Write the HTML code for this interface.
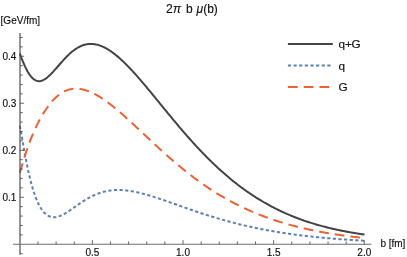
<!DOCTYPE html>
<html><head><meta charset="utf-8"><title>plot</title>
<style>html,body{margin:0;padding:0;background:#fff;}svg{display:block;will-change:transform;}text{font-family:"Liberation Sans",sans-serif;fill:#111111;stroke:#111111;stroke-width:0.15px;}</style></head>
<body>
<svg width="407" height="257" viewBox="0 0 407 257">
<rect width="407" height="257" fill="#ffffff"/>
<path d="M19.80 125.68 L20.66 130.28 L21.53 135.09 L22.39 139.99 L23.26 144.89 L24.12 149.73 L24.98 154.46 L25.85 159.04 L26.71 163.45 L27.58 167.67 L28.44 171.68 L29.30 175.49 L30.17 179.09 L31.03 182.48 L31.89 185.66 L32.76 188.65 L33.62 191.44 L34.49 194.04 L35.35 196.47 L36.21 198.72 L37.08 200.80 L37.94 202.73 L38.81 204.50 L39.67 206.13 L40.53 207.62 L41.40 208.98 L42.26 210.21 L43.13 211.32 L43.99 212.32 L44.85 213.21 L45.72 214.00 L46.58 214.69 L47.45 215.28 L48.31 215.79 L49.17 216.21 L50.04 216.55 L50.90 216.81 L51.76 217.00 L52.63 217.13 L53.49 217.19 L54.36 217.19 L55.22 217.13 L56.08 217.02 L56.95 216.85 L57.81 216.65 L58.68 216.39 L59.54 216.10 L60.40 215.77 L61.27 215.40 L62.13 215.00 L63.00 214.57 L63.86 214.12 L64.72 213.64 L65.59 213.14 L66.45 212.62 L67.32 212.08 L68.18 211.52 L69.04 210.96 L69.91 210.38 L70.77 209.79 L71.63 209.20 L72.50 208.60 L73.36 207.99 L74.23 207.39 L75.09 206.78 L75.95 206.17 L76.82 205.56 L77.68 204.96 L78.55 204.36 L79.41 203.77 L80.27 203.18 L81.14 202.60 L82.00 202.03 L82.87 201.46 L83.73 200.91 L84.59 200.37 L85.46 199.84 L86.32 199.31 L87.18 198.81 L88.05 198.31 L88.91 197.83 L89.78 197.36 L90.64 196.90 L91.50 196.46 L92.37 196.03 L93.23 195.62 L94.10 195.22 L94.96 194.84 L95.82 194.47 L96.69 194.12 L97.55 193.78 L98.42 193.46 L99.28 193.15 L100.14 192.86 L101.01 192.58 L101.87 192.32 L102.74 192.07 L103.60 191.84 L104.46 191.62 L105.33 191.42 L106.19 191.23 L107.05 191.06 L107.92 190.90 L108.78 190.75 L109.65 190.62 L110.51 190.50 L111.37 190.40 L112.24 190.31 L113.10 190.23 L113.97 190.16 L114.83 190.11 L115.69 190.07 L116.56 190.04 L117.42 190.03 L118.29 190.02 L119.15 190.03 L120.01 190.04 L120.88 190.07 L121.74 190.11 L122.61 190.16 L123.47 190.22 L124.33 190.29 L125.20 190.37 L126.06 190.46 L126.92 190.55 L127.79 190.66 L128.65 190.78 L129.52 190.90 L130.38 191.03 L131.24 191.17 L132.11 191.32 L132.97 191.47 L133.84 191.63 L134.70 191.80 L135.56 191.98 L136.43 192.16 L137.29 192.35 L138.16 192.54 L139.02 192.74 L139.88 192.95 L140.75 193.16 L141.61 193.38 L142.48 193.60 L143.34 193.83 L144.20 194.06 L145.07 194.29 L145.93 194.53 L146.79 194.78 L147.66 195.03 L148.52 195.28 L149.39 195.54 L150.25 195.80 L151.11 196.06 L151.98 196.33 L152.84 196.60 L153.71 196.87 L154.57 197.14 L155.43 197.42 L156.30 197.70 L157.16 197.98 L158.03 198.27 L158.89 198.56 L159.75 198.84 L160.62 199.14 L161.48 199.43 L162.35 199.72 L163.21 200.02 L164.07 200.31 L164.94 200.61 L165.80 200.91 L166.66 201.21 L167.53 201.51 L168.39 201.82 L169.26 202.12 L170.12 202.42 L170.98 202.73 L171.85 203.03 L172.71 203.34 L173.58 203.64 L174.44 203.95 L175.30 204.25 L176.17 204.56 L177.03 204.87 L177.90 205.17 L178.76 205.48 L179.62 205.78 L180.49 206.09 L181.35 206.39 L182.22 206.70 L183.08 207.00 L183.94 207.31 L184.81 207.61 L185.67 207.91 L186.53 208.22 L187.40 208.52 L188.26 208.82 L189.13 209.12 L189.99 209.42 L190.85 209.72 L191.72 210.01 L192.58 210.31 L193.45 210.60 L194.31 210.90 L195.17 211.19 L196.04 211.48 L196.90 211.78 L197.77 212.07 L198.63 212.35 L199.49 212.64 L200.36 212.93 L201.22 213.21 L202.08 213.50 L202.95 213.78 L203.81 214.06 L204.68 214.34 L205.54 214.62 L206.40 214.89 L207.27 215.17 L208.13 215.44 L209.00 215.71 L209.86 215.98 L210.72 216.25 L211.59 216.52 L212.45 216.79 L213.32 217.05 L214.18 217.31 L215.04 217.57 L215.91 217.83 L216.77 218.09 L217.64 218.35 L218.50 218.60 L219.36 218.86 L220.23 219.11 L221.09 219.36 L221.95 219.60 L222.82 219.85 L223.68 220.09 L224.55 220.34 L225.41 220.58 L226.27 220.82 L227.14 221.06 L228.00 221.29 L228.87 221.53 L229.73 221.76 L230.59 221.99 L231.46 222.22 L232.32 222.45 L233.19 222.67 L234.05 222.89 L234.91 223.12 L235.78 223.34 L236.64 223.56 L237.51 223.77 L238.37 223.99 L239.23 224.20 L240.10 224.41 L240.96 224.62 L241.82 224.83 L242.69 225.04 L243.55 225.24 L244.42 225.45 L245.28 225.65 L246.14 225.85 L247.01 226.05 L247.87 226.24 L248.74 226.44 L249.60 226.63 L250.46 226.82 L251.33 227.01 L252.19 227.20 L253.06 227.39 L253.92 227.57 L254.78 227.75 L255.65 227.93 L256.51 228.11 L257.38 228.29 L258.24 228.47 L259.10 228.64 L259.97 228.82 L260.83 228.99 L261.69 229.16 L262.56 229.33 L263.42 229.49 L264.29 229.66 L265.15 229.82 L266.01 229.99 L266.88 230.15 L267.74 230.31 L268.61 230.46 L269.47 230.62 L270.33 230.78 L271.20 230.93 L272.06 231.08 L272.93 231.23 L273.79 231.38 L274.65 231.53 L275.52 231.67 L276.38 231.82 L277.25 231.96 L278.11 232.10 L278.97 232.24 L279.84 232.38 L280.70 232.52 L281.56 232.65 L282.43 232.79 L283.29 232.92 L284.16 233.05 L285.02 233.19 L285.88 233.31 L286.75 233.44 L287.61 233.57 L288.48 233.69 L289.34 233.82 L290.20 233.94 L291.07 234.06 L291.93 234.18 L292.80 234.30 L293.66 234.42 L294.52 234.54 L295.39 234.65 L296.25 234.77 L297.12 234.88 L297.98 234.99 L298.84 235.10 L299.71 235.21 L300.57 235.32 L301.43 235.43 L302.30 235.53 L303.16 235.64 L304.03 235.74 L304.89 235.84 L305.75 235.94 L306.62 236.04 L307.48 236.14 L308.35 236.24 L309.21 236.34 L310.07 236.43 L310.94 236.53 L311.80 236.62 L312.67 236.72 L313.53 236.81 L314.39 236.90 L315.26 236.99 L316.12 237.08 L316.98 237.17 L317.85 237.25 L318.71 237.34 L319.58 237.42 L320.44 237.51 L321.30 237.59 L322.17 237.67 L323.03 237.75 L323.90 237.83 L324.76 237.91 L325.62 237.99 L326.49 238.07 L327.35 238.14 L328.22 238.22 L329.08 238.30 L329.94 238.37 L330.81 238.44 L331.67 238.52 L332.54 238.59 L333.40 238.66 L334.26 238.73 L335.13 238.80 L335.99 238.86 L336.85 238.93 L337.72 239.00 L338.58 239.06 L339.45 239.13 L340.31 239.19 L341.17 239.26 L342.04 239.32 L342.90 239.38 L343.77 239.44 L344.63 239.51 L345.49 239.57 L346.36 239.62 L347.22 239.68 L348.09 239.74 L348.95 239.80 L349.81 239.85 L350.68 239.91 L351.54 239.97 L352.41 240.02 L353.27 240.07 L354.13 240.13 L355.00 240.18 L355.86 240.23 L356.72 240.28 L357.59 240.33 L358.45 240.38 L359.32 240.43 L360.18 240.48 L361.04 240.53 L361.91 240.58 L362.77 240.63 L363.64 240.67 L364.50 240.72" fill="none" stroke="#5E81B5" stroke-width="2" stroke-dasharray="3.2 2.43"/>
<path d="M19.80 172.74 L20.66 169.86 L21.53 166.94 L22.39 164.03 L23.26 161.14 L24.12 158.31 L24.98 155.55 L25.85 152.86 L26.71 150.25 L27.58 147.73 L28.44 145.30 L29.30 142.94 L30.17 140.66 L31.03 138.46 L31.89 136.33 L32.76 134.27 L33.62 132.27 L34.49 130.34 L35.35 128.46 L36.21 126.63 L37.08 124.86 L37.94 123.14 L38.81 121.47 L39.67 119.84 L40.53 118.26 L41.40 116.73 L42.26 115.24 L43.13 113.79 L43.99 112.39 L44.85 111.03 L45.72 109.71 L46.58 108.44 L47.45 107.20 L48.31 106.01 L49.17 104.86 L50.04 103.76 L50.90 102.69 L51.76 101.67 L52.63 100.69 L53.49 99.75 L54.36 98.85 L55.22 97.99 L56.08 97.18 L56.95 96.40 L57.81 95.67 L58.68 94.97 L59.54 94.32 L60.40 93.70 L61.27 93.13 L62.13 92.59 L63.00 92.08 L63.86 91.62 L64.72 91.19 L65.59 90.80 L66.45 90.44 L67.32 90.12 L68.18 89.83 L69.04 89.58 L69.91 89.35 L70.77 89.16 L71.63 89.00 L72.50 88.88 L73.36 88.78 L74.23 88.71 L75.09 88.67 L75.95 88.65 L76.82 88.67 L77.68 88.71 L78.55 88.77 L79.41 88.87 L80.27 88.98 L81.14 89.12 L82.00 89.29 L82.87 89.48 L83.73 89.69 L84.59 89.92 L85.46 90.17 L86.32 90.44 L87.18 90.73 L88.05 91.05 L88.91 91.38 L89.78 91.73 L90.64 92.10 L91.50 92.48 L92.37 92.88 L93.23 93.30 L94.10 93.74 L94.96 94.19 L95.82 94.65 L96.69 95.13 L97.55 95.63 L98.42 96.14 L99.28 96.66 L100.14 97.19 L101.01 97.74 L101.87 98.30 L102.74 98.87 L103.60 99.46 L104.46 100.05 L105.33 100.66 L106.19 101.27 L107.05 101.90 L107.92 102.53 L108.78 103.18 L109.65 103.83 L110.51 104.50 L111.37 105.17 L112.24 105.85 L113.10 106.54 L113.97 107.24 L114.83 107.94 L115.69 108.65 L116.56 109.37 L117.42 110.09 L118.29 110.82 L119.15 111.56 L120.01 112.30 L120.88 113.05 L121.74 113.80 L122.61 114.56 L123.47 115.32 L124.33 116.09 L125.20 116.86 L126.06 117.63 L126.92 118.41 L127.79 119.20 L128.65 119.98 L129.52 120.77 L130.38 121.56 L131.24 122.36 L132.11 123.15 L132.97 123.95 L133.84 124.76 L134.70 125.56 L135.56 126.36 L136.43 127.17 L137.29 127.98 L138.16 128.79 L139.02 129.60 L139.88 130.41 L140.75 131.22 L141.61 132.04 L142.48 132.85 L143.34 133.66 L144.20 134.47 L145.07 135.29 L145.93 136.10 L146.79 136.91 L147.66 137.72 L148.52 138.53 L149.39 139.34 L150.25 140.15 L151.11 140.96 L151.98 141.77 L152.84 142.57 L153.71 143.38 L154.57 144.18 L155.43 144.98 L156.30 145.78 L157.16 146.58 L158.03 147.37 L158.89 148.17 L159.75 148.96 L160.62 149.74 L161.48 150.53 L162.35 151.31 L163.21 152.09 L164.07 152.87 L164.94 153.65 L165.80 154.42 L166.66 155.19 L167.53 155.96 L168.39 156.72 L169.26 157.48 L170.12 158.24 L170.98 158.99 L171.85 159.74 L172.71 160.49 L173.58 161.24 L174.44 161.98 L175.30 162.71 L176.17 163.45 L177.03 164.18 L177.90 164.90 L178.76 165.62 L179.62 166.34 L180.49 167.06 L181.35 167.77 L182.22 168.47 L183.08 169.18 L183.94 169.88 L184.81 170.57 L185.67 171.26 L186.53 171.95 L187.40 172.63 L188.26 173.31 L189.13 173.98 L189.99 174.65 L190.85 175.32 L191.72 175.98 L192.58 176.64 L193.45 177.29 L194.31 177.94 L195.17 178.58 L196.04 179.22 L196.90 179.86 L197.77 180.49 L198.63 181.12 L199.49 181.74 L200.36 182.36 L201.22 182.97 L202.08 183.58 L202.95 184.19 L203.81 184.79 L204.68 185.39 L205.54 185.98 L206.40 186.57 L207.27 187.15 L208.13 187.73 L209.00 188.30 L209.86 188.87 L210.72 189.44 L211.59 190.00 L212.45 190.56 L213.32 191.11 L214.18 191.66 L215.04 192.20 L215.91 192.74 L216.77 193.28 L217.64 193.81 L218.50 194.34 L219.36 194.86 L220.23 195.38 L221.09 195.89 L221.95 196.40 L222.82 196.91 L223.68 197.41 L224.55 197.90 L225.41 198.40 L226.27 198.89 L227.14 199.37 L228.00 199.85 L228.87 200.33 L229.73 200.80 L230.59 201.27 L231.46 201.73 L232.32 202.19 L233.19 202.65 L234.05 203.10 L234.91 203.55 L235.78 203.99 L236.64 204.43 L237.51 204.87 L238.37 205.30 L239.23 205.73 L240.10 206.15 L240.96 206.57 L241.82 206.99 L242.69 207.40 L243.55 207.81 L244.42 208.22 L245.28 208.62 L246.14 209.01 L247.01 209.41 L247.87 209.80 L248.74 210.19 L249.60 210.57 L250.46 210.95 L251.33 211.32 L252.19 211.70 L253.06 212.06 L253.92 212.43 L254.78 212.79 L255.65 213.15 L256.51 213.50 L257.38 213.86 L258.24 214.20 L259.10 214.55 L259.97 214.89 L260.83 215.23 L261.69 215.56 L262.56 215.89 L263.42 216.22 L264.29 216.55 L265.15 216.87 L266.01 217.19 L266.88 217.50 L267.74 217.81 L268.61 218.12 L269.47 218.43 L270.33 218.73 L271.20 219.03 L272.06 219.33 L272.93 219.62 L273.79 219.91 L274.65 220.20 L275.52 220.49 L276.38 220.77 L277.25 221.05 L278.11 221.32 L278.97 221.60 L279.84 221.87 L280.70 222.13 L281.56 222.40 L282.43 222.66 L283.29 222.92 L284.16 223.18 L285.02 223.43 L285.88 223.68 L286.75 223.93 L287.61 224.18 L288.48 224.42 L289.34 224.66 L290.20 224.90 L291.07 225.14 L291.93 225.37 L292.80 225.60 L293.66 225.83 L294.52 226.06 L295.39 226.28 L296.25 226.50 L297.12 226.72 L297.98 226.94 L298.84 227.15 L299.71 227.36 L300.57 227.57 L301.43 227.78 L302.30 227.99 L303.16 228.19 L304.03 228.39 L304.89 228.59 L305.75 228.78 L306.62 228.98 L307.48 229.17 L308.35 229.36 L309.21 229.55 L310.07 229.74 L310.94 229.92 L311.80 230.10 L312.67 230.28 L313.53 230.46 L314.39 230.63 L315.26 230.81 L316.12 230.98 L316.98 231.15 L317.85 231.32 L318.71 231.48 L319.58 231.65 L320.44 231.81 L321.30 231.97 L322.17 232.13 L323.03 232.29 L323.90 232.44 L324.76 232.60 L325.62 232.75 L326.49 232.90 L327.35 233.05 L328.22 233.19 L329.08 233.34 L329.94 233.48 L330.81 233.62 L331.67 233.76 L332.54 233.90 L333.40 234.04 L334.26 234.17 L335.13 234.31 L335.99 234.44 L336.85 234.57 L337.72 234.70 L338.58 234.83 L339.45 234.95 L340.31 235.08 L341.17 235.20 L342.04 235.32 L342.90 235.44 L343.77 235.56 L344.63 235.68 L345.49 235.80 L346.36 235.91 L347.22 236.02 L348.09 236.14 L348.95 236.25 L349.81 236.36 L350.68 236.46 L351.54 236.57 L352.41 236.68 L353.27 236.78 L354.13 236.88 L355.00 236.99 L355.86 237.09 L356.72 237.19 L357.59 237.29 L358.45 237.38 L359.32 237.48 L360.18 237.57 L361.04 237.67 L361.91 237.76 L362.77 237.85 L363.64 237.94 L364.50 238.03" fill="none" stroke="#EB6235" stroke-width="2" stroke-dasharray="9.75 6.02"/>
<path d="M19.80 53.37 L20.66 55.77 L21.53 58.08 L22.39 60.30 L23.26 62.42 L24.12 64.44 L24.98 66.35 L25.85 68.16 L26.71 69.85 L27.58 71.43 L28.44 72.89 L29.30 74.23 L30.17 75.45 L31.03 76.54 L31.89 77.52 L32.76 78.37 L33.62 79.11 L34.49 79.73 L35.35 80.23 L36.21 80.62 L37.08 80.90 L37.94 81.08 L38.81 81.16 L39.67 81.14 L40.53 81.02 L41.40 80.82 L42.26 80.53 L43.13 80.17 L43.99 79.73 L44.85 79.22 L45.72 78.65 L46.58 78.02 L47.45 77.33 L48.31 76.59 L49.17 75.81 L50.04 74.99 L50.90 74.13 L51.76 73.24 L52.63 72.33 L53.49 71.39 L54.36 70.43 L55.22 69.46 L56.08 68.48 L56.95 67.48 L57.81 66.49 L58.68 65.49 L59.54 64.49 L60.40 63.50 L61.27 62.52 L62.13 61.54 L63.00 60.58 L63.86 59.63 L64.72 58.70 L65.59 57.79 L66.45 56.90 L67.32 56.03 L68.18 55.18 L69.04 54.36 L69.91 53.57 L70.77 52.80 L71.63 52.06 L72.50 51.35 L73.36 50.67 L74.23 50.02 L75.09 49.40 L75.95 48.82 L76.82 48.26 L77.68 47.74 L78.55 47.25 L79.41 46.80 L80.27 46.38 L81.14 45.99 L82.00 45.64 L82.87 45.32 L83.73 45.04 L84.59 44.78 L85.46 44.56 L86.32 44.38 L87.18 44.23 L88.05 44.11 L88.91 44.02 L89.78 43.96 L90.64 43.94 L91.50 43.95 L92.37 43.99 L93.23 44.05 L94.10 44.15 L94.96 44.28 L95.82 44.44 L96.69 44.63 L97.55 44.84 L98.42 45.08 L99.28 45.35 L100.14 45.65 L101.01 45.97 L101.87 46.32 L102.74 46.69 L103.60 47.09 L104.46 47.51 L105.33 47.96 L106.19 48.42 L107.05 48.91 L107.92 49.43 L108.78 49.96 L109.65 50.51 L110.51 51.09 L111.37 51.68 L112.24 52.30 L113.10 52.93 L113.97 53.58 L114.83 54.25 L115.69 54.94 L116.56 55.64 L117.42 56.36 L118.29 57.09 L119.15 57.85 L120.01 58.61 L120.88 59.39 L121.74 60.18 L122.61 60.99 L123.47 61.81 L124.33 62.65 L125.20 63.49 L126.06 64.35 L126.92 65.22 L127.79 66.10 L128.65 66.99 L129.52 67.89 L130.38 68.80 L131.24 69.72 L132.11 70.65 L132.97 71.59 L133.84 72.53 L134.70 73.49 L135.56 74.45 L136.43 75.42 L137.29 76.39 L138.16 77.37 L139.02 78.36 L139.88 79.36 L140.75 80.36 L141.61 81.37 L142.48 82.38 L143.34 83.39 L144.20 84.41 L145.07 85.44 L145.93 86.47 L146.79 87.50 L147.66 88.54 L148.52 89.58 L149.39 90.62 L150.25 91.66 L151.11 92.71 L151.98 93.76 L152.84 94.81 L153.71 95.86 L154.57 96.92 L155.43 97.97 L156.30 99.03 L157.16 100.09 L158.03 101.15 L158.89 102.20 L159.75 103.26 L160.62 104.32 L161.48 105.38 L162.35 106.44 L163.21 107.50 L164.07 108.55 L164.94 109.61 L165.80 110.67 L166.66 111.72 L167.53 112.77 L168.39 113.82 L169.26 114.87 L170.12 115.92 L170.98 116.97 L171.85 118.01 L172.71 119.05 L173.58 120.09 L174.44 121.13 L175.30 122.16 L176.17 123.19 L177.03 124.22 L177.90 125.24 L178.76 126.27 L179.62 127.28 L180.49 128.30 L181.35 129.31 L182.22 130.32 L183.08 131.32 L183.94 132.32 L184.81 133.32 L185.67 134.31 L186.53 135.30 L187.40 136.29 L188.26 137.27 L189.13 138.24 L189.99 139.22 L190.85 140.18 L191.72 141.15 L192.58 142.10 L193.45 143.06 L194.31 144.01 L195.17 144.95 L196.04 145.89 L196.90 146.82 L197.77 147.75 L198.63 148.68 L199.49 149.60 L200.36 150.51 L201.22 151.42 L202.08 152.32 L202.95 153.22 L203.81 154.11 L204.68 155.00 L205.54 155.88 L206.40 156.76 L207.27 157.63 L208.13 158.49 L209.00 159.35 L209.86 160.21 L210.72 161.06 L211.59 161.90 L212.45 162.74 L213.32 163.57 L214.18 164.40 L215.04 165.22 L215.91 166.03 L216.77 166.84 L217.64 167.64 L218.50 168.44 L219.36 169.23 L220.23 170.02 L221.09 170.80 L221.95 171.57 L222.82 172.34 L223.68 173.10 L224.55 173.86 L225.41 174.61 L226.27 175.35 L227.14 176.09 L228.00 176.83 L228.87 177.55 L229.73 178.28 L230.59 178.99 L231.46 179.70 L232.32 180.41 L233.19 181.10 L234.05 181.80 L234.91 182.48 L235.78 183.16 L236.64 183.84 L237.51 184.51 L238.37 185.17 L239.23 185.83 L240.10 186.48 L240.96 187.13 L241.82 187.77 L242.69 188.40 L243.55 189.03 L244.42 189.66 L245.28 190.27 L246.14 190.89 L247.01 191.49 L247.87 192.10 L248.74 192.69 L249.60 193.28 L250.46 193.87 L251.33 194.45 L252.19 195.02 L253.06 195.59 L253.92 196.15 L254.78 196.71 L255.65 197.26 L256.51 197.81 L257.38 198.35 L258.24 198.89 L259.10 199.42 L259.97 199.94 L260.83 200.46 L261.69 200.98 L262.56 201.49 L263.42 201.99 L264.29 202.50 L265.15 202.99 L266.01 203.48 L266.88 203.97 L267.74 204.45 L268.61 204.92 L269.47 205.39 L270.33 205.86 L271.20 206.32 L272.06 206.77 L272.93 207.22 L273.79 207.67 L274.65 208.11 L275.52 208.55 L276.38 208.98 L277.25 209.41 L278.11 209.83 L278.97 210.25 L279.84 210.67 L280.70 211.08 L281.56 211.48 L282.43 211.88 L283.29 212.28 L284.16 212.67 L285.02 213.06 L285.88 213.44 L286.75 213.82 L287.61 214.20 L288.48 214.57 L289.34 214.93 L290.20 215.30 L291.07 215.65 L291.93 216.01 L292.80 216.36 L293.66 216.71 L294.52 217.05 L295.39 217.39 L296.25 217.72 L297.12 218.05 L297.98 218.38 L298.84 218.70 L299.71 219.02 L300.57 219.34 L301.43 219.65 L302.30 219.96 L303.16 220.26 L304.03 220.57 L304.89 220.86 L305.75 221.16 L306.62 221.45 L307.48 221.74 L308.35 222.02 L309.21 222.30 L310.07 222.58 L310.94 222.85 L311.80 223.12 L312.67 223.39 L313.53 223.65 L314.39 223.91 L315.26 224.17 L316.12 224.43 L316.98 224.68 L317.85 224.93 L318.71 225.17 L319.58 225.41 L320.44 225.65 L321.30 225.89 L322.17 226.12 L323.03 226.35 L323.90 226.58 L324.76 226.81 L325.62 227.03 L326.49 227.25 L327.35 227.46 L328.22 227.68 L329.08 227.89 L329.94 228.10 L330.81 228.30 L331.67 228.51 L332.54 228.71 L333.40 228.91 L334.26 229.10 L335.13 229.29 L335.99 229.48 L336.85 229.67 L337.72 229.86 L338.58 230.04 L339.45 230.22 L340.31 230.40 L341.17 230.58 L342.04 230.75 L342.90 230.92 L343.77 231.09 L344.63 231.26 L345.49 231.42 L346.36 231.59 L347.22 231.75 L348.09 231.91 L348.95 232.06 L349.81 232.22 L350.68 232.37 L351.54 232.52 L352.41 232.67 L353.27 232.81 L354.13 232.96 L355.00 233.10 L355.86 233.24 L356.72 233.38 L357.59 233.52 L358.45 233.65 L359.32 233.79 L360.18 233.92 L361.04 234.05 L361.91 234.17 L362.77 234.30 L363.64 234.43 L364.50 234.55" fill="none" stroke="#444444" stroke-width="2"/>
<g stroke="#505050" stroke-width="1.2" fill="none">
<line x1="20.0" y1="33" x2="20.0" y2="254.7"/>
<line x1="12.9" y1="244.25" x2="371.3" y2="244.25" stroke="#6c6c6c" stroke-width="1.1"/>
</g>
<g stroke="#444444" stroke-width="0.8" fill="none">
<line x1="20.0" y1="253.65" x2="22.8" y2="253.65"/>
<line x1="20.0" y1="234.85" x2="22.8" y2="234.85"/>
<line x1="20.0" y1="225.45" x2="22.8" y2="225.45"/>
<line x1="20.0" y1="216.05" x2="22.8" y2="216.05"/>
<line x1="20.0" y1="206.65" x2="22.8" y2="206.65"/>
<line x1="20.0" y1="197.25" x2="24.1" y2="197.25"/>
<line x1="20.0" y1="187.85" x2="22.8" y2="187.85"/>
<line x1="20.0" y1="178.45" x2="22.8" y2="178.45"/>
<line x1="20.0" y1="169.05" x2="22.8" y2="169.05"/>
<line x1="20.0" y1="159.65" x2="22.8" y2="159.65"/>
<line x1="20.0" y1="150.25" x2="24.1" y2="150.25"/>
<line x1="20.0" y1="140.85" x2="22.8" y2="140.85"/>
<line x1="20.0" y1="131.45" x2="22.8" y2="131.45"/>
<line x1="20.0" y1="122.05" x2="22.8" y2="122.05"/>
<line x1="20.0" y1="112.65" x2="22.8" y2="112.65"/>
<line x1="20.0" y1="103.25" x2="24.1" y2="103.25"/>
<line x1="20.0" y1="93.85" x2="22.8" y2="93.85"/>
<line x1="20.0" y1="84.45" x2="22.8" y2="84.45"/>
<line x1="20.0" y1="75.05" x2="22.8" y2="75.05"/>
<line x1="20.0" y1="65.65" x2="22.8" y2="65.65"/>
<line x1="20.0" y1="56.25" x2="24.1" y2="56.25"/>
<line x1="20.0" y1="46.85" x2="22.8" y2="46.85"/>
<line x1="20.0" y1="37.45" x2="22.8" y2="37.45"/>
<line x1="37.96" y1="244.25" x2="37.96" y2="241.45"/>
<line x1="56.09" y1="244.25" x2="56.09" y2="241.45"/>
<line x1="74.22" y1="244.25" x2="74.22" y2="241.45"/>
<line x1="92.35" y1="244.25" x2="92.35" y2="240.15"/>
<line x1="110.48" y1="244.25" x2="110.48" y2="241.45"/>
<line x1="128.61" y1="244.25" x2="128.61" y2="241.45"/>
<line x1="146.74" y1="244.25" x2="146.74" y2="241.45"/>
<line x1="164.87" y1="244.25" x2="164.87" y2="241.45"/>
<line x1="183.00" y1="244.25" x2="183.00" y2="240.15"/>
<line x1="201.13" y1="244.25" x2="201.13" y2="241.45"/>
<line x1="219.26" y1="244.25" x2="219.26" y2="241.45"/>
<line x1="237.39" y1="244.25" x2="237.39" y2="241.45"/>
<line x1="255.52" y1="244.25" x2="255.52" y2="241.45"/>
<line x1="273.65" y1="244.25" x2="273.65" y2="240.15"/>
<line x1="291.78" y1="244.25" x2="291.78" y2="241.45"/>
<line x1="309.91" y1="244.25" x2="309.91" y2="241.45"/>
<line x1="328.04" y1="244.25" x2="328.04" y2="241.45"/>
<line x1="346.17" y1="244.25" x2="346.17" y2="241.45"/>
<line x1="364.30" y1="244.25" x2="364.30" y2="240.15"/>
</g>
<text x="16.3" y="200.95" font-size="10" text-anchor="end">0.1</text>
<text x="16.3" y="153.95" font-size="10" text-anchor="end">0.2</text>
<text x="16.3" y="106.95" font-size="10" text-anchor="end">0.3</text>
<text x="16.3" y="59.95" font-size="10" text-anchor="end">0.4</text>
<text x="92.35" y="255.6" font-size="10" text-anchor="middle">0.5</text>
<text x="183.00" y="255.6" font-size="10" text-anchor="middle">1.0</text>
<text x="273.65" y="255.6" font-size="10" text-anchor="middle">1.5</text>
<text x="364.30" y="255.6" font-size="10" text-anchor="middle">2.0</text>
<text x="0.6" y="23.7" font-size="10">[GeV/fm]</text>
<text x="380.4" y="247.0" font-size="10">b [fm]</text>
<text y="12.5" font-size="12"><tspan x="166">2</tspan><tspan x="172.9" font-style="italic">π</tspan><tspan x="185.95">b</tspan><tspan x="196.6" font-style="italic">μ</tspan><tspan x="203.15">(b)</tspan></text>
<line x1="287.9" y1="44" x2="332.8" y2="44" stroke="#444444" stroke-width="2"/>
<line x1="287.9" y1="65.5" x2="332.8" y2="65.5" stroke="#5E81B5" stroke-width="2" stroke-dasharray="3.2 2.43"/>
<line x1="287.9" y1="87" x2="332.8" y2="87" stroke="#EB6235" stroke-width="2" stroke-dasharray="9.75 6.02"/>
<text x="338.6" y="48.2" font-size="11.8" letter-spacing="-0.25">q+G</text>
<text x="338.6" y="69.6" font-size="11.8">q</text>
<text x="338.6" y="91.2" font-size="11.8">G</text>
</svg>
</body></html>
